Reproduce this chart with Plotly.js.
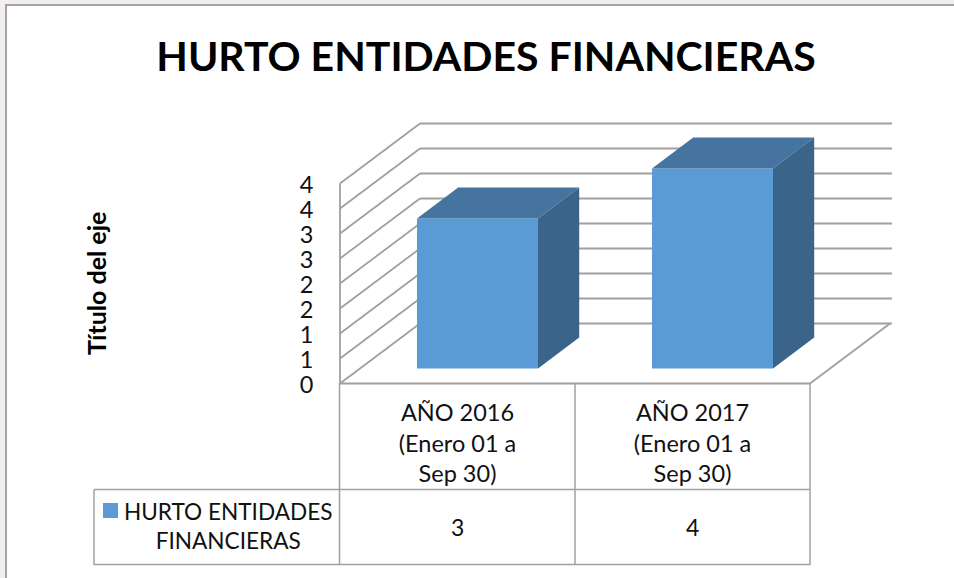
<!DOCTYPE html>
<html>
<head>
<meta charset="utf-8">
<script src="https://cdn.plot.ly/plotly-3.0.1.min.js"></script>
<style>
html,body{margin:0;padding:0;width:954px;height:578px;overflow:hidden;background:#f4efef}
#frame{position:absolute;left:5px;top:4px;width:949px;height:574px;background:#fff;border-left:2px solid #a3a3a3;border-top:2px solid #a3a3a3;box-sizing:border-box}
#chart{position:absolute;left:0;top:0;width:954px;height:578px}
</style>
</head>
<body>
<div id="frame"></div>
<div id="chart"></div>
<script>
// ---- data ----
var categories = ['AÑO 2016<br>(Enero 01 a<br>Sep 30)', 'AÑO 2017<br>(Enero 01 a<br>Sep 30)'];
var seriesName = 'HURTO ENTIDADES<br>FINANCIERAS';
var seriesValues = [3, 4];
var tickValues = [0, 0.5, 1, 1.5, 2, 2.5, 3, 3.5, 4];
var tickLabels = ['0', '1', '1', '2', '2', '3', '3', '4', '4'];

// ---- layout constants ----
var W = 954, H = 578;
var pxPerCat = 235, pxPerUnit = 50;
var plotL = 336, plotR = 896, plotT = 119, plotB = 387;
var wallDX = 80 / pxPerCat, wallDY = 60 / pxPerUnit;   // full floor depth in data units
var xMin = -0.5, xFront = 1.5, xBack = xMin + 552 / pxPerCat;
var barInset = 0.25, barDepth = 0.515, barWidth = 121 / pxPerCat;
var gray = '#a0a0a0', front = '#5b9bd5', topC = '#44749f', sideC = '#3a6489';

function proj(x, v, d) { return [x + d * wallDX, v + d * wallDY]; }
function px(x) { return (x - plotL) / (plotR - plotL); }
function py(y) { return (plotB - y) / (plotB - plotT); }

function line(x0, y0, x1, y1, w, ref) {
  return {type: 'line', layer: 'below', x0: x0, y0: y0, x1: x1, y1: y1,
    xref: ref || 'x', yref: ref || 'y', line: {color: gray, width: w}};
}

// gridlines and walls, positioned by the axes
var shapes = [];
tickValues.forEach(function (v) {
  var b = proj(xMin, v, 1);
  shapes.push(line(xMin, v, b[0], b[1], 1.8));
  shapes.push(line(b[0], b[1], xBack, b[1], 2));
});
shapes.push(line(xMin, 0, xMin, 4, 1.8));
shapes.push(line(xMin, 0, xFront, 0, 2.2));
var fr = proj(xFront, 0, 1);
shapes.push(line(xFront, 0, fr[0], fr[1], 1.8));

// data table rules (page positions)
[[339.5, 383, 339.5, 565], [575, 383, 575, 565], [810, 383, 810, 565],
 [94, 489.5, 810, 489.5], [94, 564.5, 810, 564.5], [94, 489.5, 94, 565]].forEach(function (s) {
  shapes.push(line(px(s[0]), py(s[1]), px(s[2]), py(s[3]), 1.5, 'paper'));
});
// legend key inside the table
shapes.push({type: 'rect', layer: 'above', xref: 'paper', yref: 'paper',
  x0: px(103), x1: px(118), y0: py(518), y1: py(503), fillcolor: front, line: {width: 0}});

var xIdx = seriesValues.map(function (_, i) { return i; });
var frontX = xIdx.map(function (i) { return proj(i, 0, barInset)[0]; });
var frontBase = proj(0, 0, barInset)[1];

var traces = [{
  type: 'bar', name: 'HURTO ENTIDADES FINANCIERAS',
  x: frontX, y: seriesValues, base: frontBase, width: barWidth,
  marker: {color: front, line: {width: 0}}, hoverinfo: 'skip', showlegend: false
}];

seriesValues.forEach(function (val, i) {
  var l = frontX[i] - barWidth / 2, r = frontX[i] + barWidth / 2;
  var t = val + frontBase;
  var ox = barDepth * wallDX, oy = barDepth * wallDY;
  traces.push({type: 'scatter', mode: 'lines', fill: 'toself', fillcolor: topC,
    x: [l, r, r + ox, l + ox, l], y: [t, t, t + oy, t + oy, t],
    line: {width: 0, color: topC}, hoverinfo: 'skip', showlegend: false});
  traces.push({type: 'scatter', mode: 'lines', fill: 'toself', fillcolor: sideC,
    x: [r, r + ox, r + ox, r, r], y: [t, t + oy, frontBase + oy, frontBase, t],
    line: {width: 0, color: sideC}, hoverinfo: 'skip', showlegend: false});
});

var fontFam = 'Lato, "Open Sans", sans-serif';
var annotations = [
  {text: '<b>Título del eje</b>', textangle: -90, xref: 'paper', yref: 'paper',
   x: px(96), y: py(284), xanchor: 'center', yanchor: 'middle', showarrow: false,
   font: {family: fontFam, size: 25, color: '#000'}},
  {text: seriesName, xref: 'paper', yref: 'paper', x: px(228), y: py(526), align: 'center',
   xanchor: 'center', yanchor: 'middle', showarrow: false,
   font: {family: fontFam, size: 22.6, color: '#111'}}
];
seriesValues.forEach(function (v, i) {
  annotations.push({text: String(v), xref: 'x', yref: 'paper', x: i, y: py(527),
    xanchor: 'center', yanchor: 'middle', showarrow: false,
    font: {family: fontFam, size: 23, color: '#111'}});
});

var layout = {
  width: W, height: H,
  paper_bgcolor: 'rgba(0,0,0,0)', plot_bgcolor: 'rgba(0,0,0,0)',
  margin: {l: plotL, r: W - plotR, t: plotT, b: H - plotB, pad: 0},
  showlegend: false,
  title: {text: '<b>HURTO ENTIDADES FINANCIERAS</b>', x: 486 / W, xref: 'container', xanchor: 'center',
    y: 1 - 57 / H, yref: 'container', yanchor: 'middle',
    font: {family: fontFam, size: 41, color: '#000'}},
  xaxis: {range: [xMin - 4 / pxPerCat, xMin - 4 / pxPerCat + (plotR - plotL) / pxPerCat],
    tickmode: 'array', tickvals: xIdx, ticktext: categories,
    showgrid: false, zeroline: false, showline: false, ticks: 'outside', ticklen: 5,
    tickcolor: 'rgba(0,0,0,0)', tickangle: 0,
    tickfont: {family: fontFam, size: 23.5, color: '#111'}, fixedrange: true},
  yaxis: {range: [-3.5 / pxPerUnit, -3.5 / pxPerUnit + (plotB - plotT) / pxPerUnit],
    tickmode: 'array', tickvals: tickValues, ticktext: tickLabels,
    showgrid: false, zeroline: false, showline: false, ticks: 'outside', ticklen: 17,
    tickcolor: 'rgba(0,0,0,0)', ticklabelshift: 1,
    tickfont: {family: fontFam, size: 23.5, color: '#111'}, fixedrange: true},
  barmode: 'overlay',
  shapes: shapes, annotations: annotations
};
Plotly.newPlot('chart', traces, layout, {displayModeBar: false, staticPlot: true});
</script>
</body>
</html>
